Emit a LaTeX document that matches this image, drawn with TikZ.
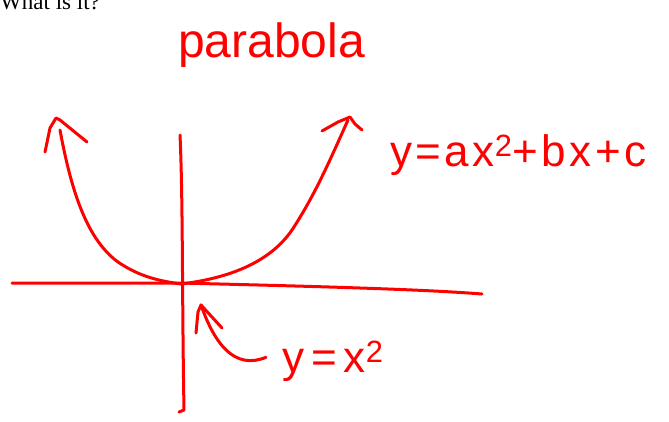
\documentclass[tikz,border=0pt]{standalone}
\usepackage{fontspec}
\setmainfont{Liberation Serif}
\newfontfamily\handfont{Liberation Sans}
\begin{document}
\begin{tikzpicture}[x=1pt,y=-1pt,
  ink/.style={draw=red, line width=3pt, line cap=round, line join=round},
  hand/.style={text=red, inner sep=0pt, font=\handfont\fontsize{#1}{#1}\selectfont},
]
\useasboundingbox (0,0) rectangle (669,421);
\clip (0,0) rectangle (669,421);
% title (cut at top, as in the reference)
\node[anchor=base west, inner sep=0pt, font=\fontsize{23}{23}\selectfont] (title) at (0,9) {What is it?};
% labels
\node[hand=48, anchor=base west] (parab) at (178,57) {parabola};
\node[hand=44, anchor=base west] (gen) at (390,166) {\addfontfeature{LetterSpace=8}y=ax\textsuperscript{2}+bx+c};
\node[hand=44, anchor=base west] (simple) at (282,372) {\addfontfeature{LetterSpace=16}y=x\textsuperscript{2}};
% axes
\draw[ink] (180,135) .. controls (183,200) and (182,300) .. (184,410) -- (179,412);
\draw[ink] (12,283) -- (180,283) .. controls (300,286) and (420,289) .. (482,294);
% parabola
\coordinate (v) at (181,284);
\draw[ink] (60,130) .. controls (72,195) and (88,240) .. (118,262)
  .. controls (140,277) and (160,281) .. (v)
  .. controls (230,278) and (270,262) .. (292,230)
  .. controls (315,195) and (330,160) .. (348,120);
% arrowheads on branches
\draw[ink] (45,152) -- (50,128) -- (56,118) -- (60,120) -- (87,142);
\draw[ink] (322,131) -- (338,122) -- (350,117) -- (355,124) -- (362,130);
% pointer from y=x^2 label to vertex
\coordinate (tip) at (201,305);
\draw[ink] (simple.west) ++(-16,-4) coordinate (ps) .. controls (235,370) and (215,345) .. (tip);
\draw[ink] (196,333) -- (198,312) -- (tip) -- (222,328);
\end{tikzpicture}
\end{document}
